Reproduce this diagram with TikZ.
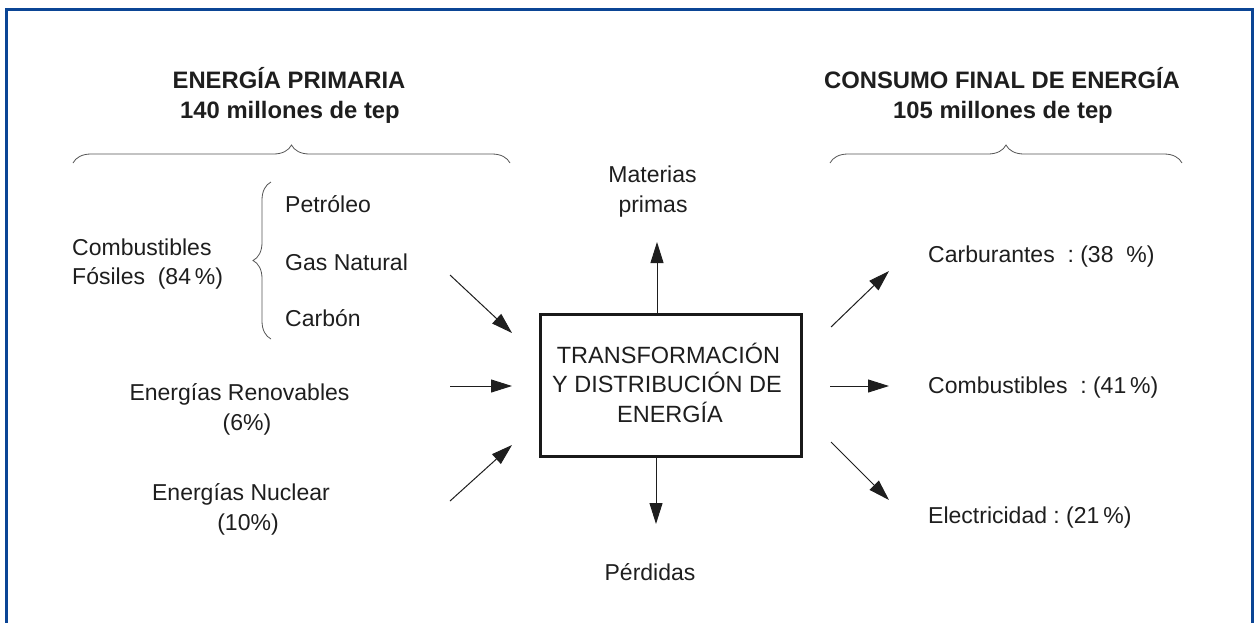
\documentclass[tikz,border=0pt]{standalone}
\usepackage{fontspec}
\setmainfont{Liberation Sans}
\usetikzlibrary{arrows.meta,decorations.pathreplacing}
\definecolor{framec}{HTML}{0B4595}
\definecolor{txt}{HTML}{1E1E1E}
\definecolor{bracec}{HTML}{555555}
\begin{document}
\begin{tikzpicture}[x=1pt,y=-1pt,
  lbl/.style={anchor=base, text=txt, inner sep=0pt, font=\fontsize{23}{28}\selectfont},
  lblw/.style={lbl, anchor=base west},
  head/.style={lbl, font=\fontsize{23.8}{28}\selectfont\bfseries},
  boxtxt/.style={lbl, font=\fontsize{23.5}{28}\selectfont},
  bracestyle/.style={draw=bracec, line width=0.8pt, decorate, decoration={brace, amplitude=18pt}},
  flow/.style={draw=txt, line width=1pt, -{Triangle[length=21pt,width=13pt]}},
  mainbox/.style={draw=black!90, line width=3.5pt, minimum width=261pt, minimum height=142pt, inner sep=0pt},
  framestyle/.style={draw=framec, line width=3pt}
]
\useasboundingbox (0,0) rectangle (1257,622);
% frame (open at the bottom)
\draw[framestyle] (6.5,630) -- (6.5,9) -- (1252,9) -- (1252,630);

% headers
\node[head] (h1a) at (289,88) {ENERGÍA PRIMARIA};
\node[head] (h1b) at (290,118) {140 millones de tep};
\node[head] (h2a) at (1002,88) {CONSUMO FINAL DE ENERGÍA};
\node[head] (h2b) at (1003,118) {105 millones de tep};

% braces
\draw[bracestyle] (73,163) -- (510,163);
\draw[bracestyle] (830,163) -- (1182,163);
\draw[bracestyle] (271,339) -- (271,182);

% left labels
\node[lblw] (comb1) at (72,255) {Combustibles};
\node[lblw] (comb2) at (72,284) {Fósiles\ \ (84\,\%)};
\node[lblw] (petr) at (285,212) {Petróleo};
\node[lblw] (gas) at (285,270) {Gas Natural};
\node[lblw] (carb) at (285,326) {Carbón};
\node[lbl] (ren1) at (239.5,400) {Energías Renovables};
\node[lbl] (ren2) at (247,430) {(6\%)};
\node[lbl] (nuc1) at (241,500) {Energías Nuclear};
\node[lbl] (nuc2) at (248,530) {(10\%)};

% central box
\node[mainbox] (box) at (671,385.5) {};
\node[boxtxt] (bt1) at (668.5,363) {TRANSFORMACIÓN};
\node[boxtxt] (bt2) at (667,392) {Y DISTRIBUCIÓN DE};
\node[boxtxt] (bt3) at (670,422) {ENERGÍA};

% top / bottom labels
\node[lbl] (mat1) at (652.5,182) {Materias};
\node[lbl] (mat2) at (653,212) {primas};
\node[lbl] (perd) at (650,580) {Pérdidas};

% right labels
\node[lblw] (r1) at (928,262) {Carburantes\ \ :\ (38\ \ \%)};
\node[lblw] (r2) at (928,393) {Combustibles\ \ :\ (41\,\%)};
\node[lblw] (r3) at (928,523) {Electricidad\ :\ (21\,\%)};

% arrow end points
\coordinate (a1s) at (450,275);  \coordinate (a1e) at (512,333);
\coordinate (a2s) at (450,386);  \coordinate (a2e) at (512,386);
\coordinate (a3s) at (450,501);  \coordinate (a3e) at (512,445);
\coordinate (upS) at (657,313);  \coordinate (upE) at (657,242);
\coordinate (dnS) at (656,458);  \coordinate (dnE) at (656,524);
\coordinate (b1s) at (831,327);  \coordinate (b1e) at (889,271);
\coordinate (b2s) at (830,386);  \coordinate (b2e) at (889,386);
\coordinate (b3s) at (831,442);  \coordinate (b3e) at (889,500);

\draw[flow] (a1s) -- (a1e);
\draw[flow] (a2s) -- (a2e);
\draw[flow] (a3s) -- (a3e);
\draw[flow] (upS) -- (upE);
\draw[flow] (dnS) -- (dnE);
\draw[flow] (b1s) -- (b1e);
\draw[flow] (b2s) -- (b2e);
\draw[flow] (b3s) -- (b3e);
\end{tikzpicture}
\end{document}
